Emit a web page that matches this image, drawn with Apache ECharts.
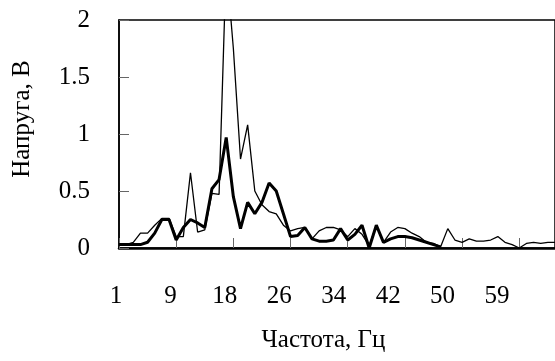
<!DOCTYPE html>
<html>
<head>
<meta charset="utf-8">
<script src="https://cdn.jsdelivr.net/npm/echarts@6/dist/echarts.min.js"></script>
<style>
  html, body { margin: 0; padding: 0; background: #fff; }
  #chart { width: 555px; height: 361px; }
</style>
</head>
<body>
<div id="chart"></div>
<script>
// частота, Гц
const freqs = [1, 2, 3, 4, 5, 6, 7, 8, 9, 10, 11, 12, 13, 14, 15, 17, 18, 19, 20, 21,
  22, 23, 24, 25, 26, 27, 28, 29, 30, 31, 32, 33, 34, 35, 36, 37, 38, 39, 40, 41,
  42, 43, 44, 45, 46, 47, 48, 49, 50, 51, 52, 53, 54, 56, 57, 58, 59, 60, 61, 62,
  63, 64]

// thin line
const voltageA = [0.03, 0.03, 0.05, 0.13, 0.13, 0.2, 0.26, 0.26, 0.1, 0.1,
  0.66, 0.14, 0.16, 0.48, 0.47, 2.5, 1.75, 0.78, 1.08, 0.5,
  0.38, 0.32, 0.3, 0.2, 0.15, 0.17, 0.18, 0.08, 0.15, 0.18,
  0.18, 0.16, 0.1, 0.17, 0.12, 0.02, 0.2, 0.05, 0.14, 0.18,
  0.17, 0.13, 0.1, 0.05, 0.04, 0.01, 0.17, 0.07, 0.05, 0.08,
  0.06, 0.06, 0.07, 0.1, 0.05, 0.03, 0.0, 0.04, 0.05, 0.04,
  0.05, 0.05]

// thick line
const voltageB = [0.03, 0.03, 0.03, 0.03, 0.05, 0.13, 0.25, 0.25, 0.07, 0.18,
  0.25, 0.22, 0.18, 0.52, 0.6, 0.97, 0.45, 0.17, 0.4, 0.3,
  0.4, 0.57, 0.5, 0.3, 0.1, 0.11, 0.18, 0.08, 0.06, 0.06,
  0.07, 0.17, 0.07, 0.12, 0.2, 0.0, 0.2, 0.05, 0.08, 0.1,
  0.1, 0.09, 0.07, 0.05, 0.03, 0.01]

const yTicks = [0, 0.5, 1, 1.5, 2]

const font = "'Liberation Serif', 'Times New Roman', serif"
const chart = echarts.init(document.getElementById("chart"))

chart.setOption({
  backgroundColor: "#fff",
  animation: false,
  grid: [
    {
      left: 119,
      top: 20,
      width: 442,
      bottom: 113,
      show: true,
      borderColor: "#000",
      borderWidth: 1.5,
    },
    // labels only: the reference prints them on a slightly narrower scale
    {
      left: 116,
      top: 20,
      width: 415,
      bottom: 113,
    },
  ],
  xAxis: [
    {
      type: "category",
      gridIndex: 0,
      data: freqs,
      boundaryGap: false,
      axisLine: { lineStyle: { color: "#000", width: 2.5 } },
      axisTick: {
        inside: true,
        length: 10,
        interval: 7,
        lineStyle: { color: "#666", width: 1 },
      },
      axisLabel: { show: false },
      splitLine: { show: false },
    },
    {
      type: "category",
      gridIndex: 1,
      data: freqs,
      boundaryGap: false,
      axisLine: { show: false },
      axisTick: { show: false },
      axisLabel: {
        interval: 7,
        margin: 36,
        color: "#000",
        fontFamily: font,
        fontSize: 25,
      },
      name: "Частота, Гц",
      nameLocation: "middle",
      nameGap: 80,
      nameTextStyle: { color: "#000", fontFamily: font, fontSize: 25 },
    },
  ],
  yAxis: [
    {
      type: "value",
      gridIndex: 0,
      min: 0,
      max: 2,
      interval: 0.5,
      axisLine: { show: true, lineStyle: { color: "#000", width: 1.5 } },
      axisTick: {
        show: true,
        inside: true,
        length: 10,
        lineStyle: { color: "#666", width: 1 },
      },
      axisLabel: {
        margin: 29,
        color: "#000",
        fontFamily: font,
        fontSize: 25,
        formatter: (v) => (yTicks.includes(v) ? String(v) : ""),
      },
      splitLine: { show: false },
      name: "Напруга, В",
      nameLocation: "middle",
      nameGap: 84,
      nameTextStyle: {
        color: "#000",
        fontFamily: font,
        fontSize: 25,
        padding: [0, 0, 0, 30],
      },
    },
    {
      type: "value",
      gridIndex: 1,
      show: false,
    },
  ],
  series: [
    {
      name: "A",
      type: "line",
      xAxisIndex: 0,
      yAxisIndex: 0,
      data: voltageA,
      symbol: "none",
      clip: true,
      lineStyle: { color: "#000", width: 1.3 },
    },
    {
      name: "B",
      type: "line",
      xAxisIndex: 0,
      yAxisIndex: 0,
      data: voltageB,
      symbol: "none",
      clip: true,
      lineStyle: { color: "#000", width: 3 },
    },
  ],
})
</script>
</body>
</html>
